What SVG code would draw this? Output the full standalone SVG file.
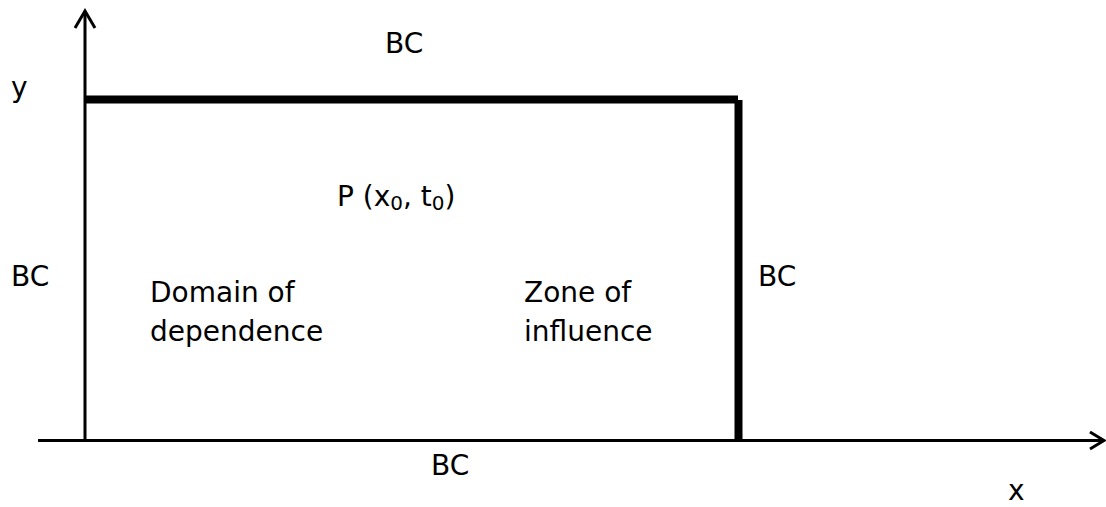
<svg xmlns="http://www.w3.org/2000/svg" width="1106" height="507" viewBox="0 0 1106 507">
<style>
text{font-family:"DejaVu Sans","Verdana",sans-serif;font-size:28px;fill:#000}
.ax{stroke:#000;stroke-width:3;fill:none}
.bc{stroke:#000;stroke-width:8;fill:none}
.sub{font-size:20px}
</style>
<rect width="1106" height="507" fill="#fff"/>
<g id="connectors">
<line class="ax" x1="85" y1="11" x2="85" y2="440.5"/>
<polyline class="ax" points="75,28 85,11 95,28"/>
<line class="ax" x1="38" y1="440.5" x2="1104" y2="440.5"/>
<polyline class="ax" points="1090,432 1104,440.5 1090,449"/>
<line class="bc" x1="85" y1="99.5" x2="738" y2="99.5"/>
<line class="bc" x1="738.5" y1="100" x2="738.5" y2="440"/>
</g>
<g id="label-bc-top"><text x="385" y="53">BC</text></g>
<g id="label-y"><text x="11" y="97">y</text></g>
<g id="label-p"><text x="337" y="206">P (x<tspan class="sub" dy="4">0</tspan><tspan dy="-4">, t</tspan><tspan class="sub" dy="4">0</tspan><tspan dy="-4">)</tspan></text></g>
<g id="label-bc-left"><text x="11" y="286">BC</text></g>
<g id="label-domain"><text x="150" y="302">Domain of</text><text x="150" y="341">dependence</text></g>
<g id="label-zone"><text x="524" y="302">Zone of</text><text x="524" y="341">influence</text></g>
<g id="label-bc-right"><text x="758" y="286">BC</text></g>
<g id="label-bc-bottom"><text x="431" y="475">BC</text></g>
<g id="label-x"><text x="1008" y="500">x</text></g>
</svg>
